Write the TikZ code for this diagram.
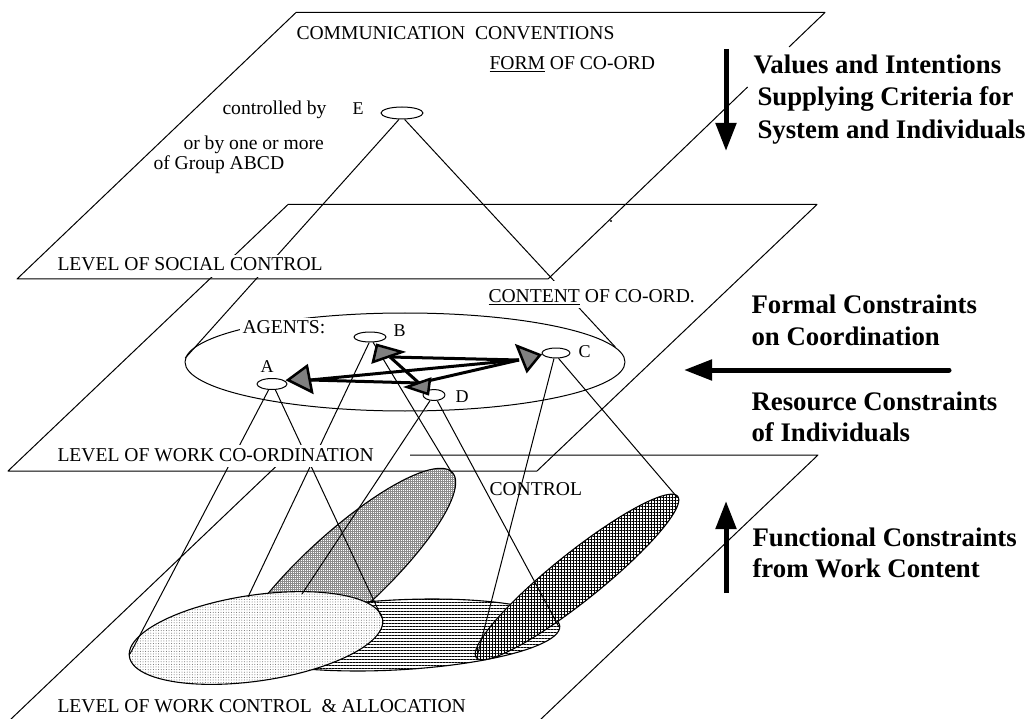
\documentclass[tikz,border=0pt]{standalone}
\usepackage{fontspec}
\setmainfont{Liberation Serif}
\usetikzlibrary{shapes.geometric,arrows.meta,patterns.meta}
\newcommand\lbfont{\fontsize{19.6}{23}\selectfont}
\newcommand\smfont{\fontsize{18}{21}\selectfont}
\newcommand\bdfont{\fontsize{26.8}{32}\selectfont\bfseries}
\newcommand\ovalpath[5]{plot[domain=0:356.25,samples=96,variable=\t]({#1+#3*cos(\t)*cos(#5)-#4*sin(\t)*sin(#5)},{#2-#3*cos(\t)*sin(#5)-#4*sin(\t)*cos(#5)}) -- cycle}
\begin{document}
\begin{tikzpicture}[x=1pt,y=-1pt,line width=1pt,line join=round,
 xlbl/.style={font=\lbfont,inner sep=0pt,anchor=base west},
 xmask/.style={font=\lbfont,anchor=base west,fill=white,inner xsep=3pt,inner ysep=2pt,text height=14pt,text depth=4pt},
 xletter/.style={font=\smfont,inner sep=0pt,anchor=base west},
 xagent/.style={draw,ellipse,fill=white,inner sep=0pt,line width=1pt},
 xgroup/.style={draw,ellipse,inner sep=0pt,line width=1pt},
 xlink/.style={line width=3pt},
 xhead/.style={draw,line width=2.5pt,fill=black!50,line join=miter},
 xblob/.style={draw,line width=1.1pt,preaction={fill=white}},
 xbold/.style={font=\bdfont,inner sep=0pt,anchor=base west},
 xarrow/.style={line width=5pt,-{Triangle[width=20pt,length=28pt]}},
]
\useasboundingbox (0,0) rectangle (1028,719);
\clip (0,0) rectangle (1028,719);

% planes
\draw (789,47) -- (825,12.5) -- (296,12.5) -- (17,279) -- (548,279) -- (747.6,87);
\draw (288,204.5) -- (817,204.5) -- (537,471) -- (8,471) -- cycle;
\draw (410,455) -- (818,455) -- (498,760) -- (-32,760) -- (288,455);

% work content blobs
\draw[xblob,pattern color=black!45,pattern={Hatch[angle=0,distance=2pt,line width=0.6pt]}] \ovalpath{342}{574}{150}{40}{42.6};
\draw[xblob,pattern color=black,pattern={Lines[angle=0,distance=3pt,line width=0.7pt]}] \ovalpath{395}{635}{165}{35}{3};
\draw[xblob,pattern color=black,pattern={Hatch[angle=0,distance=3pt,line width=0.8pt]}] \ovalpath{577}{577}{129}{24}{38.7};
\draw[xblob,pattern color=black!60,pattern={Dots[radius=0.5pt,distance=2.6pt]}] \ovalpath{256}{638}{128}{43}{8.3};

\coordinate (dotL) at (130,654);
\coordinate (dotR) at (382,618);
\coordinate (dotT1) at (248,597);
\coordinate (dotT2) at (302,594);
\coordinate (grayTip) at (452,473);
\coordinate (horR) at (559,627);
\coordinate (darkL) at (477,657);
\coordinate (darkR) at (677,497);

% agents
\node[xgroup,minimum width=440pt,minimum height=98pt] (G) at (405,362) {};
\node[xagent,minimum width=30pt,minimum height=11pt] (A) at (272,384) {};
\node[xagent,minimum width=32pt,minimum height=10pt] (B) at (370,337) {};
\node[xagent,minimum width=28pt,minimum height=10pt] (C) at (556,353) {};
\node[xagent,minimum width=22pt,minimum height=11pt] (D) at (434,395) {};
\node[xagent,minimum width=42pt,minimum height=12pt] (E) at (402,113) {};

\draw (E.245) -- (G.179);
\draw (E.292) -- (G.4);
\draw (A.240) -- (dotL);
\draw (A.300) -- (dotR);
\draw (B.262) -- (dotT1);
\draw (B.300) -- (grayTip);
\draw (D.235) -- (dotT2);
\draw (D.300) -- (horR);
\draw (C.250) -- (darkL);
\draw (C.295) -- (darkR);

% coordination links
\coordinate (hA) at (310,380);
\coordinate (hB) at (390,357);
\coordinate (hC) at (519,360);
\coordinate (hD) at (419,383);
\draw[xlink] (hA) -- (hC);
\draw[xlink] (hA) -- (hD);
\draw[xlink] (hB) -- (hC);
\draw[xlink] (hB) -- (hD);
\draw[xlink] (hD) -- (hC);
\draw[xhead] (288,380) -- (307,366) -- (312,392) -- cycle;
\draw[xhead] (377,345) -- (402,352) -- (373,362) -- cycle;
\draw[xhead] (517,346) -- (540,355) -- (527,371) -- cycle;
\draw[xhead] (407,387) -- (430,379) -- (428,394) -- cycle;

% labels
\node[xlbl] (cc) at (296,40) {COMMUNICATION\ \ CONVENTIONS};
\node[xlbl] (form) at (489,70) {\underline{FORM} OF CO-ORD};
\node[xlbl] (ctl) at (222,115) {controlled by};
\node[xletter] (lE) at (352,115) {E};
\node[xlbl] (or1) at (183,150) {or by one or more};
\node[xlbl] (or2) at (153,170) {of Group ABCD};
\node[xmask] (lsc) at (54,271) {LEVEL OF SOCIAL CONTROL};
\node[xmask,text height=17pt,text depth=0pt,inner ysep=5pt] (coc) at (485,303) {\underline{CONTENT} OF CO-ORD.};
\node[xmask,inner ysep=1.5pt] (ag) at (239,334) {AGENTS:};
\node[xletter] (lA) at (260,372) {A};
\node[xletter] (lB) at (393,337) {B};
\node[xletter] (lC) at (578,357) {C};
\node[xletter] (lD) at (455,402) {D};
\node[xmask] (lwc) at (54,461) {LEVEL OF WORK CO-ORDINATION};
\node[xlbl] (ctrl) at (489,495) {CONTROL};
\node[xlbl] (lwa) at (57,712) {LEVEL OF WORK CONTROL\ \ \& ALLOCATION};
\fill (611,221) circle (1.2);

% constraint arrows and texts
\coordinate (dnA) at (726,49);  \coordinate (dnB) at (726,151);
\coordinate (upA) at (726,593); \coordinate (upB) at (726,501);
\coordinate (lfA) at (949,370); \coordinate (lfB) at (684,370);
\draw[xarrow] (dnA) -- (dnB);
\draw[xarrow] (upA) -- (upB);
\draw[xarrow,line cap=round] (lfA) -- (lfB);
\node[xbold] (v1) at (753,74) {Values and Intentions};
\node[xbold] (v2) at (757,106) {Supplying Criteria for};
\node[xbold] (v3) at (757,139) {System and Individuals};
\node[xbold] (f1) at (751,314) {Formal Constraints};
\node[xbold] (f2) at (751,345) {on Coordination};
\node[xbold] (r1) at (751,410) {Resource Constraints};
\node[xbold] (r2) at (751,441) {of Individuals};
\node[xbold] (u1) at (752,546) {Functional Constraints};
\node[xbold] (u2) at (752,577) {from Work Content};
\end{tikzpicture}
\end{document}
